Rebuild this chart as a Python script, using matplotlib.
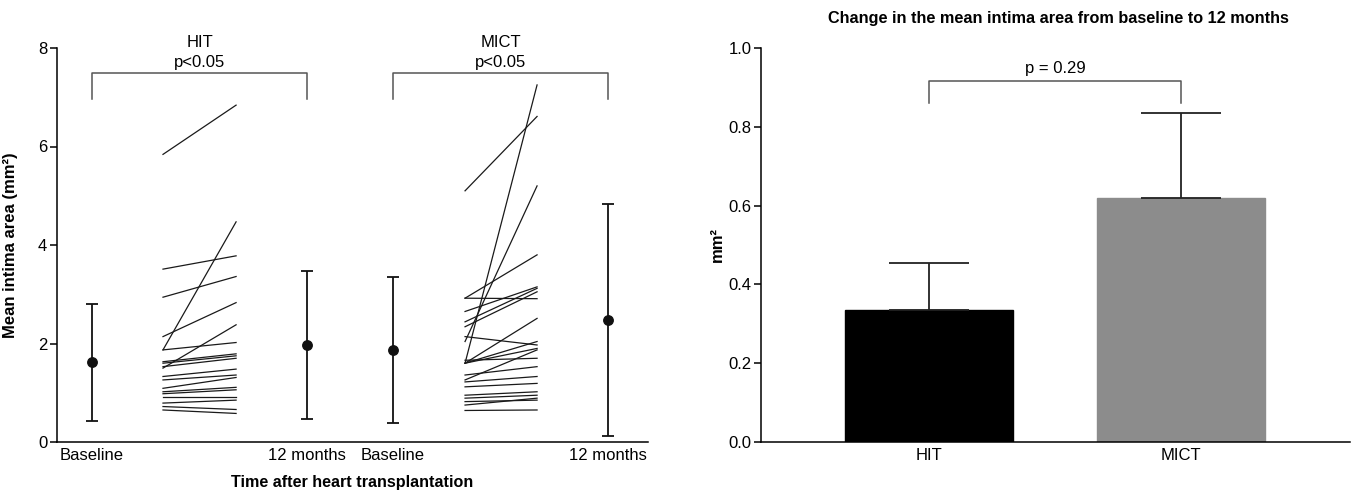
import matplotlib
matplotlib.use("Agg")
import matplotlib.pyplot as plt
import numpy as np

plt.rcParams.update({
    "font.family": ["Liberation Sans", "DejaVu Sans"],
    "font.size": 12,
    "axes.linewidth": 1.1,
    "xtick.major.width": 1.1,
    "ytick.major.width": 1.1,
})

# ---- left panel data (individual patients, baseline -> 12 months) ----
hit_base = [5.84, 3.51, 2.94, 2.14, 1.87, 1.87, 1.50, 1.63, 1.60, 1.53,
            1.33, 1.26, 1.09, 1.02, 0.98, 0.92, 0.79, 0.72, 0.65]
hit_12m = [6.84, 3.78, 3.36, 2.83, 2.02, 4.47, 2.38, 1.79, 1.75, 1.70,
           1.48, 1.36, 1.31, 1.11, 1.06, 0.92, 0.85, 0.66, 0.58]

mict_base = [5.10, 1.60, 2.04, 2.92, 2.92, 2.65, 2.44, 2.34, 2.14, 1.60,
             1.60, 1.60, 1.66, 1.36, 1.26, 1.22, 1.12, 0.95, 0.89, 0.82,
             0.75, 0.64]
mict_12m = [6.61, 7.25, 5.20, 3.80, 2.91, 3.15, 3.12, 3.05, 1.97, 2.51,
            2.04, 1.90, 1.70, 1.53, 1.87, 1.33, 1.19, 1.02, 0.95, 0.85,
            0.89, 0.65]

# group summaries: mean, lower, upper
summ_pos = [0.0, 1.0, 1.4, 2.4]
summ_mean = [1.62, 1.97, 1.87, 2.48]
summ_low = [0.43, 0.47, 0.38, 0.13]
summ_high = [2.81, 3.48, 3.35, 4.83]
left_ticks = ["Baseline", "12 months", "Baseline", "12 months"]

# ---- right panel data ----
groups = ["HIT", "MICT"]
change_mean = [0.335, 0.62]
change_err = [0.12, 0.215]
bar_colors = ["#000000", "#8c8c8c"]

fig = plt.figure(figsize=(13.56, 4.92), dpi=100)
ax1 = fig.add_axes([57 / 1356, 1 - 442 / 492, 591 / 1356, 394 / 492])
ax2 = fig.add_axes([761 / 1356, 1 - 442 / 492, 589 / 1356, 394 / 492])

# individual spaghetti lines
for b, m in zip(hit_base, hit_12m):
    ax1.plot([0.33, 0.67], [b, m], color="#1a1a1a", lw=0.9)
for b, m in zip(mict_base, mict_12m):
    ax1.plot([1.735, 2.07], [b, m], color="#1a1a1a", lw=0.9)

mean_arr = np.array(summ_mean)
yerr = [mean_arr - np.array(summ_low), np.array(summ_high) - mean_arr]
ax1.errorbar(summ_pos, summ_mean, yerr=yerr, fmt="o", color="#111111",
             ms=6.8, capsize=4.5, elinewidth=1.3, capthick=1.3)

ax1.set_xlim(-0.163, 2.586)
ax1.set_ylim(0, 8)
ax1.set_yticks([0, 2, 4, 6, 8])
ax1.set_xticks(summ_pos)
ax1.set_xticklabels(left_ticks)
ax1.tick_params(axis="x", length=0, pad=4)
ax1.tick_params(axis="y", length=5, direction="out", pad=2)
ax1.spines["top"].set_visible(False)
ax1.spines["right"].set_visible(False)
ax1.set_ylabel("Mean intima area (mm²)", fontweight="bold", fontsize=12)
ax1.yaxis.set_label_coords(-0.066, 0.5)
ax1.set_xlabel("Time after heart transplantation", fontweight="bold", fontsize=11.6)
ax1.xaxis.set_label_coords(0.5, -0.084)

# significance brackets
for x0, x1, name in [(0.0, 1.0, "HIT"), (1.4, 2.4, "MICT")]:
    ax1.plot([x0, x0, x1, x1], [6.96, 7.49, 7.49, 6.96], color="#555555",
             lw=1.1, clip_on=False)
    ax1.text((x0 + x1) / 2, 8.12, name, ha="center", va="center", fontsize=12)
    ax1.text((x0 + x1) / 2, 7.70, "p<0.05", ha="center", va="center", fontsize=12)

# right bar chart
xpos = np.arange(len(groups))
ax2.bar(xpos, change_mean, width=0.667, color=bar_colors, edgecolor=bar_colors)
ax2.errorbar(xpos, change_mean, yerr=[[0, 0], change_err], fmt="none",
             ecolor="#222222", elinewidth=1.3, capsize=28.8, capthick=1.3)
ax2.set_xlim(-0.667, 1.67)
ax2.set_ylim(0, 1.0)
ax2.set_yticks(np.arange(0, 1.01, 0.2))
ax2.set_yticklabels([f"{v:.1f}" for v in np.arange(0, 1.01, 0.2)])
ax2.set_xticks(xpos)
ax2.set_xticklabels(groups)
ax2.tick_params(axis="x", length=0, pad=4)
ax2.tick_params(axis="y", length=5, direction="out", pad=2)
ax2.spines["top"].set_visible(False)
ax2.spines["right"].set_visible(False)
ax2.set_ylabel("mm²", fontweight="bold", fontsize=12)
ax2.yaxis.set_label_coords(-0.061, 0.5)

ax2.plot([0, 0, 1, 1], [0.86, 0.916, 0.916, 0.86], color="#555555",
         lw=1.1, clip_on=False)
ax2.text(0.5, 0.949, "p = 0.29", ha="center", va="center", fontsize=12)

fig.text(1058 / 1356, 1 - 18 / 492,
         "Change in the mean intima area from baseline to 12 months",
         ha="center", va="center", fontweight="bold", fontsize=11.7)

fig.savefig("out.png", dpi=100)
